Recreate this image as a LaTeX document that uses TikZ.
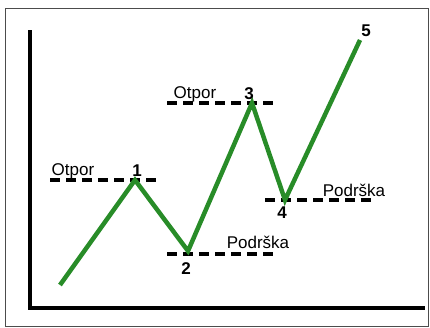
\documentclass[tikz,border=0pt]{standalone}
\usepackage{fontspec}
\setmainfont{Liberation Sans}
\definecolor{trend}{RGB}{40,140,40}
\begin{document}
\begin{tikzpicture}[x=1pt,y=-1pt,
  level/.style={line width=3.2pt,dash pattern=on 10pt off 6pt},
  lbl/.style={font=\fontsize{17}{19}\selectfont,inner sep=0pt},
  num/.style={font=\fontsize{17}{19}\selectfont\bfseries,inner sep=0pt}]
\useasboundingbox (0,0) rectangle (430,327);
\draw[line width=1pt,black!70] (5,8) rectangle (428,326);

% axes
\draw[line width=3.2pt] (30,30)--(30,308)--(425,308);

% levels
\draw[level] (50,180)--(158,180);
\draw[level] (167,103)--(275,103);
\draw[level] (167,254)--(275,254);
\draw[level] (265,200)--(372,200);

% price
\coordinate (p0) at (60,285);
\coordinate (p1) at (135,180);
\coordinate (p2) at (188,251);
\coordinate (p3) at (252,103);
\coordinate (p4) at (285,200);
\coordinate (p5) at (360,40);
\draw[trend,line width=4.5pt,line join=miter] (p0)--(p1)--(p2)--(p3)--(p4)--(p5);

\node[lbl,anchor=base] (o1) at (73,175) {Otpor};
\node[num,anchor=base] (n1) at (137,176) {1};
\node[lbl,anchor=base] (o3) at (195,98) {Otpor};
\node[num,anchor=base] (n3) at (249,99) {3};
\node[num,anchor=base] (n2) at (186,274) {2};
\node[lbl,anchor=base] (s2) at (258,248) {Podrška};
\node[num,anchor=base] (n4) at (282,218) {4};
\node[lbl,anchor=base] (s4) at (354,196) {Podrška};
\node[num,anchor=base] (n5) at (366,36) {5};
\end{tikzpicture}
\end{document}
